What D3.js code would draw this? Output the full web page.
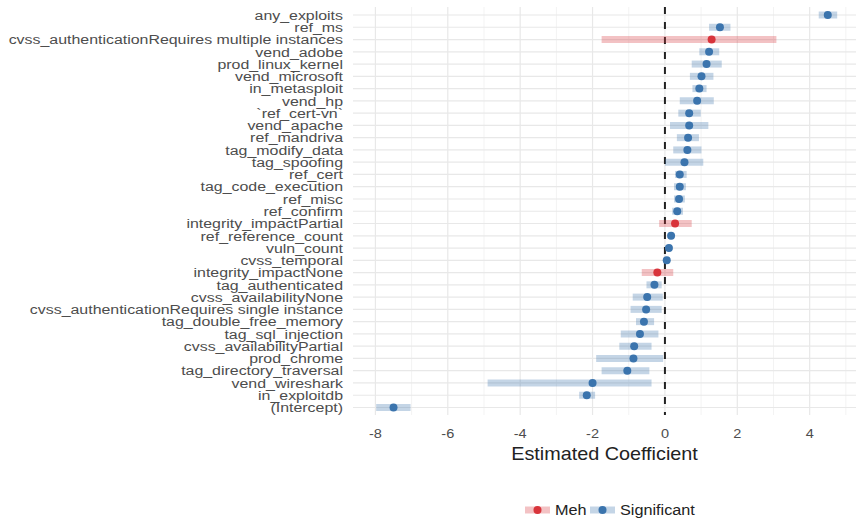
<!DOCTYPE html>
<html>
<head>
<meta charset="utf-8">
<script src="https://cdn.jsdelivr.net/npm/d3@7"></script>
<style>
  body { margin: 0; background: #fff; }
  text { font-family: "Liberation Sans", Arial, sans-serif; }
</style>
</head>
<body>
<div id="chart"></div>
<script>
// coefficient table, top to bottom
const terms = [
  "any_exploits", "ref_ms", "cvss_authenticationRequires multiple instances",
  "vend_adobe", "prod_linux_kernel", "vend_microsoft", "in_metasploit",
  "vend_hp", "`ref_cert-vn`", "vend_apache", "ref_mandriva", "tag_modify_data",
  "tag_spoofing", "ref_cert", "tag_code_execution", "ref_misc", "ref_confirm",
  "integrity_impactPartial", "ref_reference_count", "vuln_count", "cvss_temporal",
  "integrity_impactNone", "tag_authenticated", "cvss_availabilityNone",
  "cvss_authenticationRequires single instance", "tag_double_free_memory",
  "tag_sql_injection", "cvss_availabilityPartial", "prod_chrome",
  "tag_directory_traversal", "vend_wireshark", "in_exploitdb", "(Intercept)"
];
const estimate = [4.5, 1.52, 1.29, 1.22, 1.15, 1.01, 0.95, 0.89, 0.67, 0.67, 0.64, 0.62,
  0.54, 0.41, 0.41, 0.39, 0.34, 0.28, 0.17, 0.11, 0.05, -0.21, -0.29, -0.49,
  -0.52, -0.58, -0.69, -0.85, -0.87, -1.04, -2.0, -2.16, -7.5];
const lower = [4.25, 1.22, -1.75, 0.95, 0.74, 0.69, 0.76, 0.41, 0.37, 0.14, 0.33, 0.23,
  0.0, 0.28, 0.25, 0.25, 0.2, -0.16, 0.12, 0.07, 0.02, -0.64, -0.51, -0.89,
  -0.95, -0.8, -1.22, -1.26, -1.9, -1.75, -4.9, -2.37, -7.98];
const upper = [4.76, 1.81, 3.08, 1.5, 1.57, 1.34, 1.15, 1.35, 0.99, 1.2, 0.94, 1.01,
  1.06, 0.6, 0.58, 0.55, 0.5, 0.74, 0.23, 0.16, 0.09, 0.23, -0.09, -0.06,
  -0.09, -0.3, -0.18, -0.37, -0.05, -0.43, -0.37, -1.93, -7.03];
const group = terms.map((t, i) => (lower[i] < 0 && upper[i] > 0) ? "Meh" : "Significant");
const xTicks = [-8, -6, -4, -2, 0, 2, 4];
const groups = ["Meh", "Significant"];

const width = 856, height = 521;
const color = d3.scaleOrdinal().domain(groups).range(["#d8343b", "#3b74ad"]);

const rows = terms.map((t, i) => ({term: t, est: estimate[i], lo: lower[i], hi: upper[i], g: group[i]}));

const x = d3.scaleLinear().domain([-8.62, 5.28]).range([353, 856]);
const y = d3.scalePoint().domain(terms).range([15, 407.5]);

const svg = d3.select("#chart").append("svg")
  .attr("width", width).attr("height", height);

// grid
const grid = svg.append("g");
grid.selectAll(".minor").data(d3.range(-9, 6, 2).filter(v => x(v) >= 353 && x(v) <= 856))
  .join("line")
  .attr("x1", d => x(d)).attr("x2", d => x(d))
  .attr("y1", 7).attr("y2", 415)
  .attr("stroke", "#f3f3f3").attr("stroke-width", 1);
grid.selectAll(".major").data(xTicks).join("line")
  .attr("x1", d => x(d)).attr("x2", d => x(d))
  .attr("y1", 7).attr("y2", 415)
  .attr("stroke", "#e8e8e8").attr("stroke-width", 1.2);
grid.selectAll(".hrow").data(terms).join("line")
  .attr("x1", 353).attr("x2", 856)
  .attr("y1", d => y(d)).attr("y2", d => y(d))
  .attr("stroke", "#e8e8e8").attr("stroke-width", 1.2);

// zero line
svg.append("line")
  .attr("x1", x(0)).attr("x2", x(0))
  .attr("y1", 7).attr("y2", 415)
  .attr("stroke", "#222").attr("stroke-width", 2)
  .attr("stroke-dasharray", "7,8");

// intervals
svg.append("g").selectAll("line").data(rows).join("line")
  .attr("x1", d => x(d.lo)).attr("x2", d => x(d.hi))
  .attr("y1", d => y(d.term)).attr("y2", d => y(d.term))
  .attr("stroke", d => color(d.g)).attr("stroke-opacity", 0.3)
  .attr("stroke-width", 7);

// estimates
svg.append("g").selectAll("circle").data(rows).join("circle")
  .attr("cx", d => x(d.est)).attr("cy", d => y(d.term))
  .attr("r", 4)
  .attr("fill", d => color(d.g));

// text in the source image is a bit wider than tall
const sx = 1.18;

// y labels
svg.append("g").selectAll("text").data(terms).join("text")
  .attr("transform", d => `translate(343,${y(d)}) scale(${sx},1)`)
  .attr("dy", "0.35em")
  .attr("text-anchor", "end")
  .attr("font-size", 13.5)
  .attr("fill", "#4d4d4d")
  .text(d => d);

// x axis labels
svg.append("g").selectAll("text").data(xTicks).join("text")
  .attr("transform", d => `translate(${x(d)},433) scale(1.12,1)`)
  .attr("dy", "0.35em")
  .attr("text-anchor", "middle")
  .attr("font-size", 13)
  .attr("fill", "#4d4d4d")
  .text(d => d);

svg.append("text")
  .attr("transform", `translate(${x(-1.67)},454) scale(1.1,1)`)
  .attr("dy", "0.35em")
  .attr("text-anchor", "middle")
  .attr("font-size", 18)
  .attr("fill", "#222")
  .text("Estimated Coefficient");

// legend
const legend = svg.append("g").attr("transform", "translate(525,510)");
const items = legend.selectAll("g").data(groups).join("g")
  .attr("transform", (d, i) => `translate(${i === 0 ? 0 : 65},0)`);
items.append("line")
  .attr("x1", 0).attr("x2", 25).attr("y1", 0).attr("y2", 0)
  .attr("stroke", d => color(d)).attr("stroke-opacity", 0.3).attr("stroke-width", 7);
items.append("circle").attr("cx", 12.5).attr("cy", 0).attr("r", 4)
  .attr("fill", d => color(d));
items.append("text")
  .attr("transform", "translate(30,0) scale(1.12,1)")
  .attr("dy", "0.35em")
  .attr("font-size", 14.5).attr("fill", "#222")
  .text(d => d);
</script>
</body>
</html>
